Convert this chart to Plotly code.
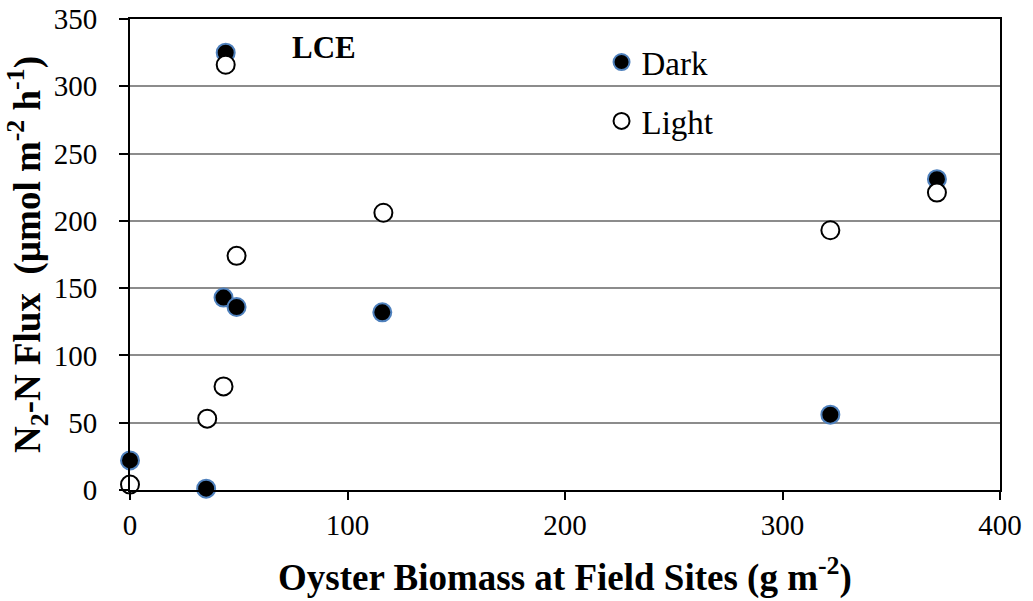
import plotly.graph_objects as go

# Data
dark_x = [0, 35, 43, 49, 116, 44, 322, 371]
dark_y = [22, 1, 143, 136, 132, 325, 56, 231]
light_x = [0, 35.5, 43, 49, 116.5, 44, 322, 371]
light_y = [4, 53, 77, 174, 206, 316, 193, 221]

x_ticks = [0, 100, 200, 300, 400]
y_ticks = [0, 50, 100, 150, 200, 250, 300, 350]

FONT = "Liberation Serif, Times New Roman, serif"

fig = go.Figure()
fig.add_trace(go.Scatter(
    x=dark_x, y=dark_y, mode="markers", name="Dark",
    marker=dict(size=18, color="black", line=dict(color="#4F81BD", width=2)),
    cliponaxis=False, legendgroup="d"))
fig.add_trace(go.Scatter(
    x=light_x, y=light_y, mode="markers", name="Light",
    marker=dict(size=18, color="white", line=dict(color="black", width=2)),
    cliponaxis=False, legendgroup="l"))

fig.add_annotation(x=89, y=329, text="<b>LCE</b>", showarrow=False,
                   font=dict(family=FONT, size=31, color="black"))

fig.update_layout(
    width=1033, height=601,
    margin=dict(l=130, r=33, t=19, b=111),
    paper_bgcolor="white", plot_bgcolor="white",
    font=dict(family=FONT, size=29, color="black"),
    showlegend=True,
    legend=dict(x=0.542, y=0.968, xanchor="left", yanchor="top",
                bgcolor="rgba(0,0,0,0)", font=dict(family=FONT, size=33),
                traceorder="grouped", tracegroupgap=13, itemwidth=30),
    xaxis=dict(range=[0, 400], tickvals=x_ticks, showgrid=False,
               showline=True, linecolor="black", linewidth=2, mirror=True,
               ticks="outside", ticklen=8, tickwidth=2, tickcolor="black",
               zeroline=False, automargin=False,
               title=dict(text="<b>Oyster Biomass at Field Sites (g m<sup>-2</sup>)</b>",
                          font=dict(family=FONT, size=37), standoff=24)),
    yaxis=dict(range=[0, 350], tickvals=y_ticks, showgrid=True,
               gridcolor="#8C8C8C", gridwidth=2,
               showline=True, linecolor="black", linewidth=2, mirror=True,
               ticks="outside", ticklen=9, tickwidth=2, tickcolor="black",
               ticklabelstandoff=16,
               zeroline=False, automargin=False,
               title=dict(text="<b>N<sub>2</sub>-N Flux  (µmol m<sup>-2</sup> h<sup>-1</sup>)</b>",
                          font=dict(family=FONT, size=37), standoff=0)),
)

fig.write_html("out.html")
